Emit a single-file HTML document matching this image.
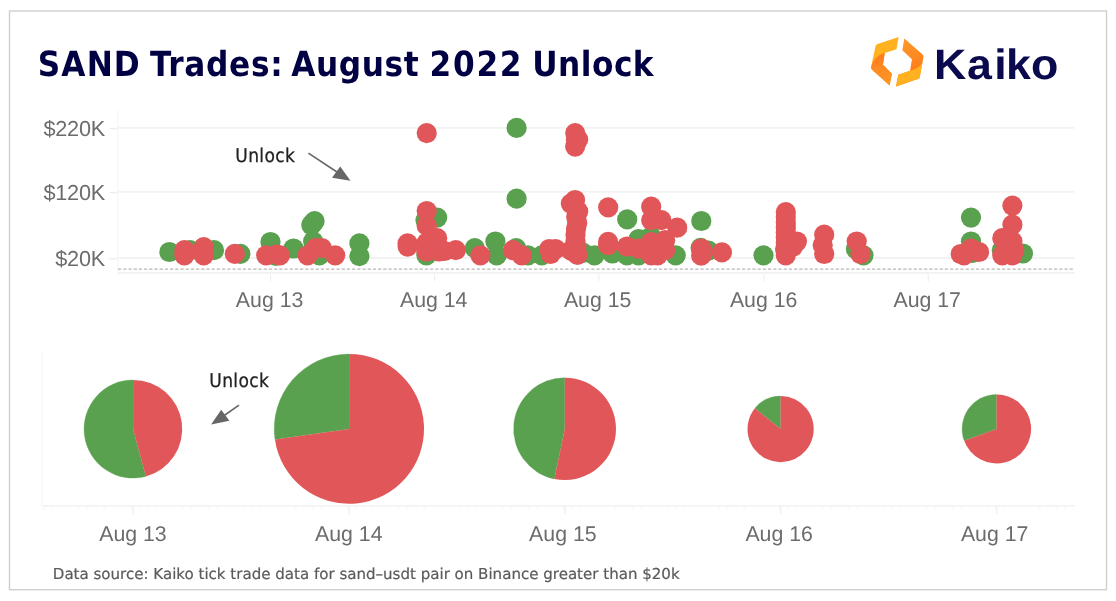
<!DOCTYPE html>
<html lang="en">
<head>
<meta charset="utf-8">
<title>SAND Trades: August 2022 Unlock</title>
<style>
html,body{margin:0;padding:0;background:#fff;}
body{width:1116px;height:601px;overflow:hidden;}
svg{display:block;text-rendering:geometricPrecision;}
.title{font-family:"DejaVu Sans Condensed","DejaVu Sans","Liberation Sans",sans-serif;font-weight:bold;font-size:34.7px;fill:#000042;}
.ax{font-family:"Liberation Sans",sans-serif;font-size:21.3px;fill:#6c6c6c;}
.ay{font-family:"Liberation Sans",sans-serif;font-size:21.7px;fill:#6c6c6c;letter-spacing:-0.2px;}
.ann{font-family:"DejaVu Sans Condensed","DejaVu Sans","Liberation Sans",sans-serif;font-size:19px;fill:#222;letter-spacing:0.35px;stroke:#222;stroke-width:0.25px;}
.src{font-family:"DejaVu Sans","Liberation Sans",sans-serif;font-size:15.05px;fill:#5a5a5a;stroke:#5a5a5a;stroke-width:0.2px;}
.logo{font-family:"Liberation Sans",sans-serif;font-weight:bold;font-size:42.6px;fill:#0b0a4d;}
</style>
</head>
<body>
<svg width="1116" height="601" viewBox="0 0 1116 601">
<rect x="0" y="0" width="1116" height="601" fill="#fff"/>
<rect x="9.5" y="11" width="1097" height="578.7" fill="none" stroke="#cfcfcf" stroke-width="1.4"/>

<text class="title" y="75.9"><tspan x="37.8" letter-spacing="1.1">SAND</tspan> <tspan x="150.1" letter-spacing="0.67">Trades:</tspan> <tspan x="291.3" letter-spacing="0.58">August</tspan> <tspan x="429.6" letter-spacing="1.7">2022</tspan> <tspan x="532.2" letter-spacing="0.5">Unlock</tspan></text>

<!-- Kaiko logo -->
<defs>
<linearGradient id="lgO1" gradientUnits="userSpaceOnUse" x1="130" y1="230" x2="180" y2="500"><stop offset="0" stop-color="#ff7a1c"/><stop offset="0.45" stop-color="#fd8a22"/><stop offset="1" stop-color="#fd9528"/></linearGradient>
<linearGradient id="lgO2" gradientUnits="userSpaceOnUse" x1="400" y1="110" x2="500" y2="370"><stop offset="0" stop-color="#fd9528"/><stop offset="0.55" stop-color="#fd8a22"/><stop offset="1" stop-color="#ff7a1c"/></linearGradient>
</defs>
<g id="logo">
<g transform="translate(864,30) scale(0.10654)">
<path d="M325,65 L128,131 Q112,136 108,153 L67,345 Q63,362 76,373 L240,520 L262,410 L178,325 L195,215 L305,180 Z" fill="#ffb11f"/>
<path d="M192,216 Q125,235 84,300 L67,345 Q63,362 76,373 L240,520 L262,410 L178,325 L195,215 Z" fill="url(#lgO1)"/>
<path d="M378,80 L548,227 Q561,239 558,256 L523,440 Q520,456 505,461 L300,530 L322,420 L432,382 L450,275 L360,190 Z" fill="url(#lgO2)"/>
<path d="M432,382 Q505,365 548,310 L523,440 Q520,456 505,461 L300,530 L322,420 Z" fill="#ffb11f"/>
</g>
<text class="logo" transform="translate(934,79) scale(1.05,1)" x="0 31.4 57.3 68.7 92.4" y="0">Kaiko</text>
</g>

<!-- scatter axes -->
<g stroke="#eeeeee" stroke-width="1.4" fill="none">
<line x1="118" y1="127.9" x2="1074.5" y2="127.9"/>
<line x1="118" y1="191.9" x2="1074.5" y2="191.9"/>
<line x1="118" y1="258" x2="1074.5" y2="258"/>
<line x1="109" y1="128.6" x2="117.2" y2="128.6"/>
<line x1="109" y1="192.6" x2="117.2" y2="192.6"/>
<line x1="109" y1="258.7" x2="117.2" y2="258.7"/>
</g>
<g stroke="#f1f1f1" stroke-width="1.6" fill="none">
<line x1="117.8" y1="272.9" x2="1074.5" y2="272.9"/>
</g>
<g stroke="#efefef" stroke-width="1.2" fill="none">
<line x1="270.5" y1="274.5" x2="270.5" y2="281.3"/><line x1="434.6" y1="274.5" x2="434.6" y2="281.3"/><line x1="598.8" y1="274.5" x2="598.8" y2="281.3"/><line x1="764.2" y1="274.5" x2="764.2" y2="281.3"/><line x1="928.3" y1="274.5" x2="928.3" y2="281.3"/>
</g>
<line x1="117.8" y1="110" x2="117.8" y2="275.5" stroke="#f5f5f5" stroke-width="1.2"/>
<line x1="118" y1="269.2" x2="1074.5" y2="269.2" stroke="#b8b8b8" stroke-width="1.2" stroke-dasharray="3.3,1.9"/>
<g class="ay">
<text x="105.1" y="136.1" text-anchor="end">$220K</text>
<text x="105.1" y="200.1" text-anchor="end">$120K</text>
<text x="105.1" y="266.2" text-anchor="end">$20K</text>
</g>
<g class="ax"><text x="269.6" y="307.4" text-anchor="middle">Aug 13</text><text x="433.7" y="307.4" text-anchor="middle">Aug 14</text><text x="597.65" y="307.4" text-anchor="middle">Aug 15</text><text x="763.65" y="307.4" text-anchor="middle">Aug 16</text><text x="927.2" y="307.4" text-anchor="middle">Aug 17</text></g>
<g fill="#59a14f"><circle cx="169.4" cy="252.0" r="10.1"/><circle cx="190.0" cy="250.2" r="10.1"/><circle cx="214.0" cy="250.2" r="10.1"/><circle cx="240.4" cy="253.8" r="10.1"/><circle cx="270.5" cy="242.0" r="10.1"/><circle cx="293.5" cy="248.5" r="10.1"/><circle cx="275.8" cy="255.9" r="10.1"/><circle cx="314.6" cy="221.1" r="10.1"/><circle cx="311.3" cy="225.0" r="10.1"/><circle cx="313.0" cy="223.0" r="10.1"/><circle cx="313.1" cy="241.5" r="10.1"/><circle cx="319.4" cy="255.3" r="10.1"/><circle cx="359.4" cy="243.4" r="10.1"/><circle cx="359.4" cy="256.2" r="10.1"/><circle cx="425.5" cy="220.3" r="10.1"/><circle cx="437.2" cy="217.6" r="10.1"/><circle cx="426.4" cy="255.3" r="10.1"/><circle cx="474.8" cy="248.2" r="10.1"/><circle cx="495.4" cy="241.5" r="10.1"/><circle cx="496.7" cy="255.3" r="10.1"/><circle cx="516.6" cy="127.9" r="10.1"/><circle cx="516.6" cy="198.7" r="10.1"/><circle cx="516.2" cy="248.2" r="10.1"/><circle cx="528.0" cy="255.3" r="10.1"/><circle cx="541.8" cy="255.3" r="10.1"/><circle cx="583.2" cy="252.8" r="10.1"/><circle cx="594.5" cy="255.3" r="10.1"/><circle cx="612.4" cy="253.5" r="10.1"/><circle cx="627.2" cy="219.4" r="10.1"/><circle cx="627.0" cy="255.3" r="10.1"/><circle cx="638.6" cy="239.0" r="10.1"/><circle cx="638.6" cy="255.3" r="10.1"/><circle cx="651.1" cy="236.5" r="10.1"/><circle cx="675.7" cy="255.3" r="10.1"/><circle cx="701.3" cy="221.0" r="10.1"/><circle cx="708.4" cy="250.6" r="10.1"/><circle cx="700.6" cy="247.8" r="10.1"/><circle cx="785.1" cy="249.2" r="10.1"/><circle cx="763.5" cy="255.3" r="10.1"/><circle cx="855.9" cy="249.0" r="10.1"/><circle cx="863.5" cy="255.3" r="10.1"/><circle cx="971.0" cy="217.6" r="10.1"/><circle cx="971.0" cy="241.5" r="10.1"/><circle cx="972.7" cy="252.8" r="10.1"/><circle cx="1001.8" cy="250.2" r="10.1"/><circle cx="1022.9" cy="253.5" r="10.1"/></g><g fill="#e15759"><circle cx="184.4" cy="250.2" r="10.1"/><circle cx="184.4" cy="255.3" r="10.1"/><circle cx="203.7" cy="247.2" r="10.1"/><circle cx="203.7" cy="255.3" r="10.1"/><circle cx="234.8" cy="253.8" r="10.1"/><circle cx="266.2" cy="255.3" r="10.1"/><circle cx="276.7" cy="254.5" r="10.1"/><circle cx="280.0" cy="255.3" r="10.1"/><circle cx="307.6" cy="255.3" r="10.1"/><circle cx="315.6" cy="248.2" r="10.1"/><circle cx="321.9" cy="248.2" r="10.1"/><circle cx="335.2" cy="255.3" r="10.1"/><circle cx="407.6" cy="243.3" r="10.1"/><circle cx="407.6" cy="246.6" r="10.1"/><circle cx="426.7" cy="133.1" r="10.1"/><circle cx="426.7" cy="211.0" r="10.1"/><circle cx="426.7" cy="225.7" r="10.1"/><circle cx="437.2" cy="238.2" r="10.1"/><circle cx="426.7" cy="242.7" r="10.1"/><circle cx="432.7" cy="245.7" r="10.1"/><circle cx="439.0" cy="251.5" r="10.1"/><circle cx="426.4" cy="251.5" r="10.1"/><circle cx="444.5" cy="251.0" r="10.1"/><circle cx="455.8" cy="250.2" r="10.1"/><circle cx="480.4" cy="255.3" r="10.1"/><circle cx="513.0" cy="250.2" r="10.1"/><circle cx="521.7" cy="255.3" r="10.1"/><circle cx="549.3" cy="249.0" r="10.1"/><circle cx="555.6" cy="249.0" r="10.1"/><circle cx="550.6" cy="254.0" r="10.1"/><circle cx="575.2" cy="133.1" r="10.1"/><circle cx="578.2" cy="139.6" r="10.1"/><circle cx="575.2" cy="146.6" r="10.1"/><circle cx="575.8" cy="139.8" r="10.1"/><circle cx="575.1" cy="200.0" r="10.1"/><circle cx="570.8" cy="203.6" r="10.1"/><circle cx="578.2" cy="211.5" r="10.1"/><circle cx="576.2" cy="217.0" r="10.1"/><circle cx="577.2" cy="223.0" r="10.1"/><circle cx="576.0" cy="229.0" r="10.1"/><circle cx="575.5" cy="235.0" r="10.1"/><circle cx="575.5" cy="241.0" r="10.1"/><circle cx="576.5" cy="247.0" r="10.1"/><circle cx="574.0" cy="252.0" r="10.1"/><circle cx="577.5" cy="254.8" r="10.1"/><circle cx="571.0" cy="250.5" r="10.1"/><circle cx="608.2" cy="207.4" r="10.1"/><circle cx="608.1" cy="241.9" r="10.1"/><circle cx="608.1" cy="245.2" r="10.1"/><circle cx="627.0" cy="246.5" r="10.1"/><circle cx="638.6" cy="248.6" r="10.1"/><circle cx="651.2" cy="206.7" r="10.1"/><circle cx="651.2" cy="220.2" r="10.1"/><circle cx="661.4" cy="220.1" r="10.1"/><circle cx="651.2" cy="242.0" r="10.1"/><circle cx="651.4" cy="255.3" r="10.1"/><circle cx="657.6" cy="255.3" r="10.1"/><circle cx="665.2" cy="240.2" r="10.1"/><circle cx="665.2" cy="250.2" r="10.1"/><circle cx="677.2" cy="227.7" r="10.1"/><circle cx="701.2" cy="248.5" r="10.1"/><circle cx="701.2" cy="255.7" r="10.1"/><circle cx="721.9" cy="252.3" r="10.1"/><circle cx="785.8" cy="212.1" r="10.1"/><circle cx="785.8" cy="217.0" r="10.1"/><circle cx="785.8" cy="222.6" r="10.1"/><circle cx="785.8" cy="227.5" r="10.1"/><circle cx="785.8" cy="232.7" r="10.1"/><circle cx="785.8" cy="237.5" r="10.1"/><circle cx="785.8" cy="242.7" r="10.1"/><circle cx="785.8" cy="248.5" r="10.1"/><circle cx="785.8" cy="255.3" r="10.1"/><circle cx="796.9" cy="241.5" r="10.1"/><circle cx="793.1" cy="246.5" r="10.1"/><circle cx="824.2" cy="234.7" r="10.1"/><circle cx="822.7" cy="245.2" r="10.1"/><circle cx="824.2" cy="254.0" r="10.1"/><circle cx="856.7" cy="241.5" r="10.1"/><circle cx="860.5" cy="254.0" r="10.1"/><circle cx="960.7" cy="254.0" r="10.1"/><circle cx="964.0" cy="255.3" r="10.1"/><circle cx="971.0" cy="248.5" r="10.1"/><circle cx="979.0" cy="252.0" r="10.1"/><circle cx="1012.4" cy="205.6" r="10.1"/><circle cx="1012.4" cy="224.7" r="10.1"/><circle cx="1002.3" cy="238.2" r="10.1"/><circle cx="1012.4" cy="241.5" r="10.1"/><circle cx="1002.3" cy="255.3" r="10.1"/><circle cx="1012.4" cy="255.3" r="10.1"/><circle cx="1006.6" cy="247.7" r="10.1"/><circle cx="1014.3" cy="250.0" r="10.1"/></g>
<text class="ann" x="235.3" y="162.2">Unlock</text>
<line x1="308.4" y1="153.2" x2="340" y2="174" stroke="#666" stroke-width="1.6"/>
<polygon points="350.5,180.8 340.2,166.4 332,177.7" fill="#666"/>

<!-- pies -->
<g stroke="#f0f0f0" stroke-width="1.4" fill="none">
<line x1="41.9" y1="506" x2="1074.5" y2="506"/>
<line x1="133.1" y1="506" x2="133.1" y2="514.3"/><line x1="349.1" y1="506" x2="349.1" y2="514.3"/><line x1="564.8" y1="506" x2="564.8" y2="514.3"/><line x1="780.6" y1="506" x2="780.6" y2="514.3"/><line x1="996.6" y1="506" x2="996.6" y2="514.3"/>
</g>
<line x1="41.9" y1="352" x2="41.9" y2="506" stroke="#f5f5f5" stroke-width="1.2"/>
<line x1="43.7" y1="508.6" x2="1074.5" y2="508.6" stroke="#f1f1f1" stroke-width="1.2" stroke-dasharray="1.2 7.45"/>
<path d="M133.1,429.0 L145.81,476.43 A49.1,49.1 0 1 1 133.1,379.9 Z" fill="#59a14f" stroke="#59a14f" stroke-width="0.3"/><path d="M133.1,429.0 L133.1,379.9 A49.1,49.1 0 0 1 145.81,476.43 Z" fill="#e15759"/><path d="M349.1,428.9 L274.95,439.45 A74.9,74.9 0 0 1 349.1,354.0 Z" fill="#59a14f" stroke="#59a14f" stroke-width="0.3"/><path d="M349.1,428.9 L349.1,354.0 A74.9,74.9 0 1 1 274.95,439.45 Z" fill="#e15759"/><path d="M564.8,428.9 L554.33,479.02 A51.2,51.2 0 0 1 564.8,377.7 Z" fill="#59a14f" stroke="#59a14f" stroke-width="0.3"/><path d="M564.8,428.9 L564.8,377.7 A51.2,51.2 0 1 1 554.33,479.02 Z" fill="#e15759"/><path d="M780.6,429.1 L754.88,408.27 A33.1,33.1 0 0 1 780.6,396.0 Z" fill="#59a14f" stroke="#59a14f" stroke-width="0.3"/><path d="M780.6,429.1 L780.6,396.0 A33.1,33.1 0 1 1 754.88,408.27 Z" fill="#e15759"/><path d="M996.6,428.9 L964.18,440.70 A34.5,34.5 0 0 1 996.6,394.4 Z" fill="#59a14f" stroke="#59a14f" stroke-width="0.3"/><path d="M996.6,428.9 L996.6,394.4 A34.5,34.5 0 1 1 964.18,440.70 Z" fill="#e15759"/>
<text class="ann" x="209.3" y="387.2">Unlock</text>
<line x1="239" y1="405.2" x2="222" y2="417" stroke="#666" stroke-width="1.6"/>
<polygon points="211.1,424.5 221.2,409.7 229.4,420.8" fill="#666"/>
<g class="ax"><text x="132.95" y="540.8" text-anchor="middle">Aug 13</text><text x="348.75" y="540.8" text-anchor="middle">Aug 14</text><text x="562.85" y="540.8" text-anchor="middle">Aug 15</text><text x="779.15" y="540.8" text-anchor="middle">Aug 16</text><text x="994.65" y="540.8" text-anchor="middle">Aug 17</text></g>
<text class="src" x="52.8" y="579.1">Data source: Kaiko tick trade data for sand–usdt pair on Binance greater than $20k</text>
</svg>
</body>
</html>
